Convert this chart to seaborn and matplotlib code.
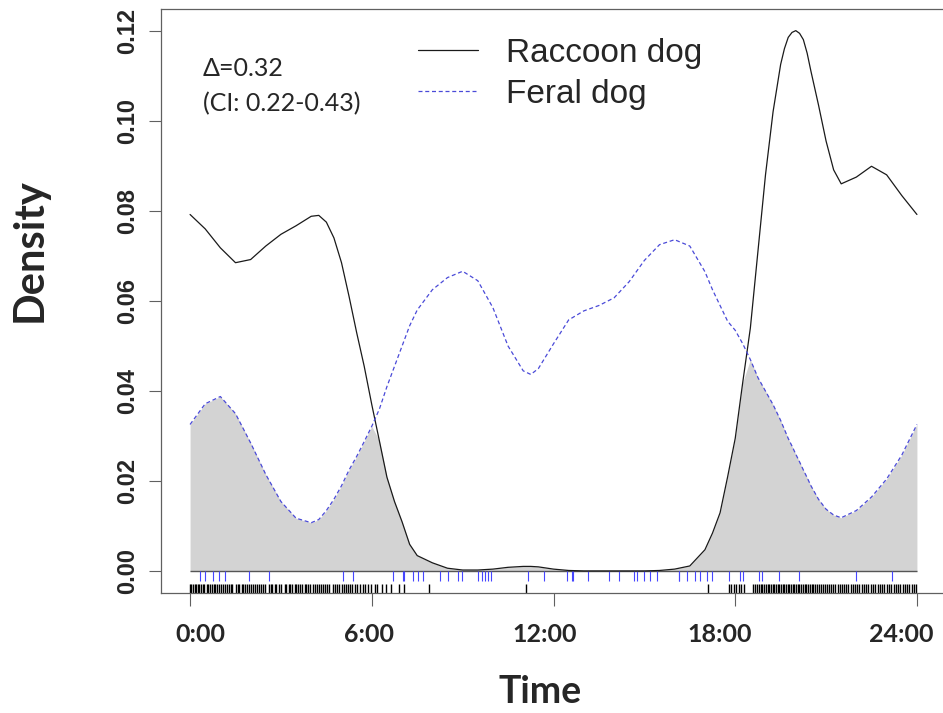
import numpy as np
import pandas as pd
import seaborn as sns
import matplotlib
matplotlib.use("Agg")
import matplotlib.pyplot as plt
import matplotlib.transforms as mtransforms
from matplotlib.lines import Line2D

# ---------------- data ----------------
hours = [0, 0.5, 1, 1.5, 2, 2.5, 3, 3.5, 4,
         4.25, 4.5, 4.75, 5, 5.25, 5.5, 5.75, 6, 6.25, 6.5, 6.75, 7, 7.25, 7.5,
         8, 8.5, 9, 9.5, 10, 10.5, 11, 11.25, 11.5, 12, 12.5, 13, 13.5, 14, 14.5, 15,
         15.5, 16, 16.5, 17,
         17.25, 17.5, 17.75, 18, 18.25, 18.5, 18.75, 19, 19.25, 19.5, 19.625, 19.75,
         19.875, 20, 20.125, 20.25, 20.375, 20.5, 20.75, 21, 21.25, 21.5,
         22, 22.5, 23, 23.5, 24]

raccoon_density = [0.0792, 0.0760, 0.0718, 0.0685, 0.0692, 0.0722, 0.0748, 0.0767, 0.0788,
                   0.0790, 0.0775, 0.0740, 0.0685, 0.0610, 0.0530, 0.0455, 0.0370, 0.0290,
                   0.0209, 0.0155, 0.0110, 0.0060, 0.0035,
                   0.0019, 0.0007, 0.0003, 0.0003, 0.0005, 0.0009, 0.0011, 0.0011, 0.0010,
                   0.0005, 0.0002, 0.0001, 0.0001, 0.0001, 0.0001, 0.0001, 0.0002, 0.0005,
                   0.0012, 0.0048,
                   0.0085, 0.0130, 0.0210, 0.0295, 0.0420, 0.0540, 0.0710, 0.0880, 0.1020,
                   0.1125, 0.1160, 0.1185, 0.1196, 0.1200, 0.1194, 0.1180, 0.1150, 0.1110,
                   0.1035, 0.0955, 0.0891, 0.0860,
                   0.0875, 0.0899, 0.0880, 0.0834, 0.0792]

feral_density = [0.0326, 0.0372, 0.0388, 0.0350, 0.0285, 0.0215, 0.0155, 0.0118, 0.0108,
                 0.0115, 0.0135, 0.0160, 0.0190, 0.0225, 0.0255, 0.0288, 0.0322, 0.0360,
                 0.0410, 0.0455, 0.0500, 0.0545, 0.0580,
                 0.0625, 0.0652, 0.0666, 0.0645, 0.0585, 0.0500, 0.0445, 0.0437, 0.0450,
                 0.0505, 0.0558, 0.0578, 0.0590, 0.0607, 0.0643, 0.0690, 0.0725, 0.0736,
                 0.0722, 0.0665,
                 0.0625, 0.0590, 0.0555, 0.0535, 0.0505, 0.0470, 0.0430, 0.0400, 0.0370,
                 0.0335, 0.0315, 0.0295, 0.0278, 0.0260, 0.0243, 0.0225, 0.0208, 0.0190,
                 0.0160, 0.0138, 0.0125, 0.0119,
                 0.0135, 0.0165, 0.0205, 0.0258, 0.0326]

raccoon_times = [0.00, 0.04, 0.09, 0.15, 0.19, 0.26, 0.31, 0.36, 0.42, 0.47, 0.55, 0.60,
                 0.66, 0.71, 0.78, 0.83, 0.90, 0.97, 1.02, 1.08, 1.14, 1.22, 1.27, 1.34,
                 1.40, 1.52, 1.57, 1.63, 1.70, 1.76, 1.83, 1.88, 1.95, 2.01, 2.08, 2.14,
                 2.22, 2.27, 2.35, 2.41, 2.47, 2.60, 2.66, 2.72, 2.79, 2.85, 2.93, 2.99,
                 3.12, 3.18, 3.25, 3.31, 3.37, 3.45, 3.51, 3.58, 3.64, 3.70, 3.78, 3.84,
                 3.91, 3.97, 4.05, 4.11, 4.20, 4.26, 4.33, 4.40, 4.46, 4.52, 4.60, 4.73,
                 4.80, 4.86, 4.92, 5.00, 5.07, 5.14, 5.21, 5.29, 5.36, 5.44, 5.52, 5.61,
                 5.70, 5.78, 5.87, 5.98, 6.09, 6.18,
                 6.35, 6.48, 6.62, 6.90, 7.08, 7.90, 11.10, 17.10,
                 17.80, 17.86, 17.95, 18.03, 18.12, 18.20, 18.30,
                 18.60, 18.66, 18.72, 18.79, 18.85, 18.90, 18.96, 19.02, 19.07, 19.13,
                 19.18, 19.24, 19.29, 19.35, 19.40, 19.46, 19.51, 19.57, 19.62, 19.68,
                 19.73, 19.79, 19.84, 19.90, 19.95, 20.01, 20.06, 20.12, 20.17, 20.23,
                 20.29, 20.34, 20.40, 20.46, 20.52, 20.58, 20.64, 20.70, 20.76, 20.83,
                 20.89, 20.96, 21.03, 21.10, 21.17, 21.24, 21.31, 21.38, 21.45, 21.52,
                 21.59, 21.66, 21.74, 21.81, 21.88, 21.95, 22.03, 22.10, 22.18, 22.25,
                 22.33, 22.40, 22.47, 22.55, 22.62, 22.70, 22.77, 22.85, 22.92, 23.00,
                 23.08, 23.15, 23.23, 23.30, 23.38, 23.45, 23.53, 23.60, 23.68, 23.75,
                 23.83, 23.90, 23.97]

feral_times = [0.33, 0.50, 0.77, 0.94, 1.16, 1.93, 2.62, 5.06, 5.39, 6.71, 7.02, 7.07,
               7.36, 7.51, 7.69, 8.26, 8.53, 8.86, 8.97, 9.52, 9.63, 9.74, 9.85, 9.93,
               11.17, 11.67, 12.44, 12.61, 12.66, 13.15, 13.82, 14.17, 14.67, 14.75,
               15.00, 15.19, 15.41, 16.13, 16.16, 16.40, 16.67, 16.84, 17.06, 17.23,
               17.81, 18.16, 18.27, 18.77, 18.88, 19.46, 20.12, 21.99, 23.17]

x_ticks = [0, 6, 12, 18, 24]
x_tick_labels = ["0:00", "6:00", "12:00", "18:00", "24:00"]
y_ticks = [0.00, 0.02, 0.04, 0.06, 0.08, 0.10, 0.12]
y_tick_labels = ["0.00", "0.02", "0.04", "0.06", "0.08", "0.10", "0.12"]
series_names = ["Raccoon dog", "Feral dog"]
overlap_text = ["\u0394=0.32", "(CI: 0.22-0.43)"]

# ---------------- style ----------------
sns.set_style("white")
plt.rcParams["font.family"] = ["Liberation Sans", "DejaVu Sans"]

W, H = 943, 713
fig = plt.figure(figsize=(W / 100, H / 100), dpi=100)
ax = fig.add_axes([161 / W, 1 - 593 / H, 785 / W, 584 / H])

df = pd.DataFrame({"hour": hours, "raccoon": raccoon_density, "feral": feral_density})

BLACK = "#1a1a1a"
BLUE = "#4a4ad8"
GREY_FILL = "#d3d3d3"
AXIS_C = "#606060"
DASH = (0, (3.2, 2.2))

# overlap area
ax.fill_between(df["hour"], 0, np.minimum(df["raccoon"], df["feral"]),
                color=GREY_FILL, linewidth=0, zorder=1)
# baseline
ax.hlines(0, hours[0], hours[-1], color="#555555", lw=1.0, zorder=2)

sns.lineplot(data=df, x="hour", y="raccoon", ax=ax, color=BLACK, lw=0.9, zorder=3)
sns.lineplot(data=df, x="hour", y="feral", ax=ax, color=BLUE, lw=0.9,
             linestyle=DASH, zorder=3)

# rugs
sns.rugplot(x=raccoon_times, ax=ax, height=9 / 584, color="black", lw=1.8,
            expand_margins=False, zorder=2)
ax.vlines(feral_times, -0.0022, 0, color="#4646ff", lw=0.8, zorder=2)

ax.set_xlim(-0.96, 24.96)
ax.set_ylim(-0.0048, 0.1248)

ax.set_xticks(x_ticks)
ax.set_xticklabels(x_tick_labels, fontfamily="Lato", fontweight="bold", fontsize=18)
ax.set_yticks(y_ticks)
ax.set_yticklabels(y_tick_labels, fontfamily="Liberation Sans", fontweight="bold",
                   fontsize=17, rotation=90, va="center")
ax.tick_params(axis="x", length=9.5, width=0.8, color=AXIS_C, pad=12, direction="out")
ax.tick_params(axis="y", length=9, width=0.8, color=AXIS_C, pad=7, direction="out")
ax.tick_params(bottom=True, left=True)

# the x labels in the reference sit slightly off their ticks
label_shift_px = [10, -3, -9, -16, -16]
for lab, dx in zip(ax.get_xticklabels(), label_shift_px):
    lab.set_transform(lab.get_transform() +
                      mtransforms.ScaledTranslation(dx / 100, 0, fig.dpi_scale_trans))

for s in ax.spines.values():
    s.set_color(AXIS_C)
    s.set_linewidth(0.9)

ax.set_xlabel("")
ax.set_ylabel("")
fig.text(540 / W, 1 - 692 / H, "Time", fontfamily="Lato", fontweight="bold",
         fontsize=27, ha="center", va="center")
fig.text(30 / W, 1 - 250 / H, "Density", fontfamily="Lato", fontweight="bold",
         fontsize=30, ha="center", va="center", rotation=90)

# overlap coefficient text
fig.text(203 / W, 1 - 69 / H, overlap_text[0], family=["Lato", "Open Sans", "DejaVu Sans"],
         fontsize=18, ha="left", va="center")
fig.text(203 / W, 1 - 104 / H, overlap_text[1], family=["Lato", "Open Sans", "DejaVu Sans"],
         fontsize=18, ha="left", va="center")

# legend
handles = [Line2D([], [], color=BLACK, lw=0.9),
           Line2D([], [], color=BLUE, lw=0.9, linestyle=DASH)]
ax.legend(handles, series_names, loc="upper left",
          bbox_to_anchor=(418 / W, 1 - 38 / H), bbox_transform=fig.transFigure,
          frameon=False, fontsize=24, handlelength=1.8, handletextpad=0.85,
          labelspacing=0.3, borderpad=0, borderaxespad=0)

fig.savefig("out.png", dpi=100)
